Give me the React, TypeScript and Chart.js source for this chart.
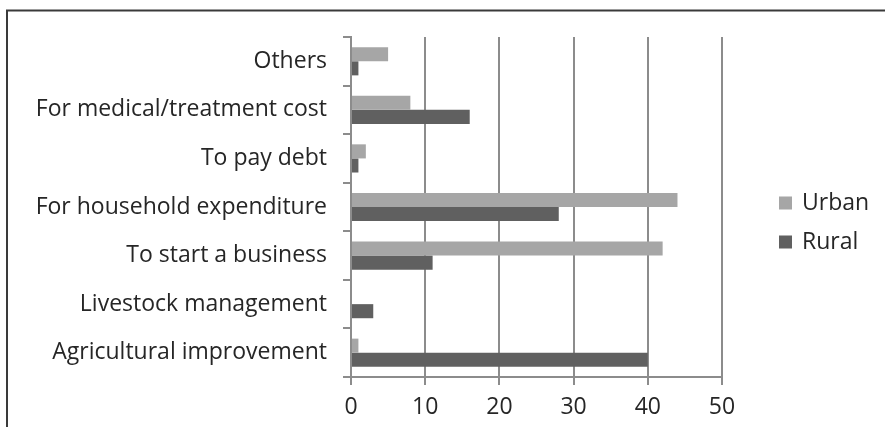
import React, { useEffect, useRef } from "react";
import { Chart, registerables } from "chart.js";

Chart.register(...registerables);

const categories = [
  "Others",
  "For medical/treatment cost",
  "To pay debt",
  "For household expenditure",
  "To start a business",
  "Livestock management",
  "Agricultural improvement",
];
const urbanValues = [5, 8, 2, 44, 42, 0, 1];
const ruralValues = [1, 16, 1, 28, 11, 3, 40];
const xTicks = [0, 10, 20, 30, 40, 50];

const FONT = "'Open Sans', sans-serif";
const TEXT = "#262626";

const framePlugin = {
  id: "frame",
  beforeDraw(chart: any) {
    const ctx = chart.ctx;
    ctx.save();
    ctx.fillStyle = "#ffffff";
    ctx.fillRect(0, 0, chart.width, chart.height);
    ctx.strokeStyle = "#3a3a3a";
    ctx.lineWidth = 2;
    ctx.beginPath();
    ctx.moveTo(7, chart.height);
    ctx.lineTo(7, 10.5);
    ctx.lineTo(chart.width, 10.5);
    ctx.stroke();
    ctx.restore();
  },
};

const sideLegendPlugin = {
  id: "sideLegend",
  afterDraw(chart: any) {
    const ctx = chart.ctx;
    const area = chart.chartArea;
    const x0 = area.right + 57;
    const yMid = (area.top + area.bottom) / 2;
    const gap = 39;
    ctx.save();
    ctx.font = `23px ${FONT}`;
    ctx.textBaseline = "middle";
    ctx.textAlign = "left";
    chart.data.datasets.forEach((ds: any, i: number) => {
      const y = yMid - 4 + i * gap;
      ctx.fillStyle = ds.backgroundColor;
      ctx.fillRect(x0, y - 6.5, 13, 13);
      ctx.fillStyle = TEXT;
      ctx.fillText(ds.label, x0 + 23, y);
    });
    ctx.restore();
  },
};

export default function App() {
  const ref = useRef<HTMLCanvasElement | null>(null);
  useEffect(() => {
    document.body.style.margin = "0";
    if (!ref.current) return;
    const chart = new Chart(ref.current, {
      type: "bar",
      data: {
        labels: categories,
        datasets: [
          {
            label: "Urban",
            data: urbanValues,
            backgroundColor: "#a6a6a6",
            borderWidth: 0,
          },
          {
            label: "Rural",
            data: ruralValues,
            backgroundColor: "#606060",
            borderWidth: 0,
          },
        ],
      },
      options: {
        indexAxis: "y",
        animation: false,
        responsive: false,
        maintainAspectRatio: false,
        layout: { padding: { top: 37, bottom: 0, left: 0, right: 163 } },
        datasets: {
          bar: { barPercentage: 1, categoryPercentage: 0.58 },
        },
        scales: {
          x: {
            min: 0,
            max: 50,
            afterBuildTicks: (scale: any) => {
              scale.ticks = xTicks.map((v) => ({ value: v }));
            },
            afterFit: (scale: any) => {
              scale.height = 50;
            },
            grid: {
              color: "#8c8c8c",
              lineWidth: 2,
              tickLength: 8,
            },
            border: { color: "#8c8c8c", width: 2 },
            ticks: {
              color: TEXT,
              font: { family: FONT, size: 23 },
              padding: 9,
            },
          },
          y: {
            offset: true,
            afterFit: (scale: any) => {
              scale.width = 351;
            },
            grid: {
              offset: true,
              drawOnChartArea: false,
              color: "#8c8c8c",
              lineWidth: 2,
              tickLength: 8,
            },
            border: { color: "#8c8c8c", width: 2 },
            ticks: {
              color: TEXT,
              font: { family: FONT, size: 23 },
              padding: 16,
            },
          },
        },
        plugins: {
          legend: { display: false },
          tooltip: { enabled: false },
        },
      },
      plugins: [framePlugin, sideLegendPlugin],
    });
    return () => chart.destroy();
  }, []);
  return (
    <div style={{ width: 885, height: 427 }}>
      <canvas ref={ref} width={885} height={427} />
    </div>
  );
}
